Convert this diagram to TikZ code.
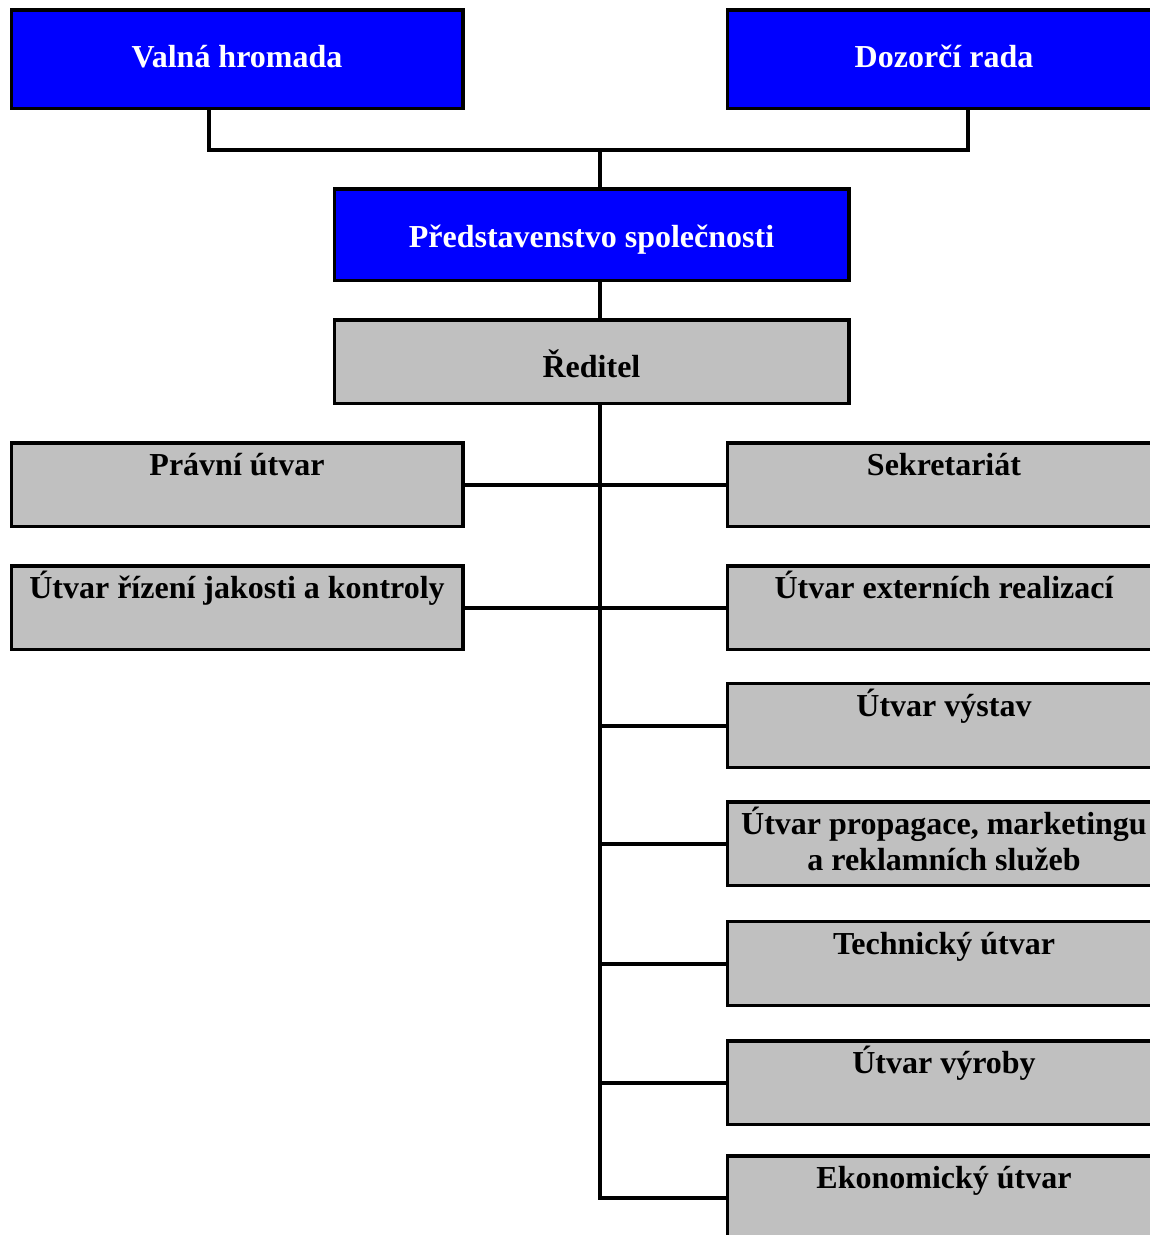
\documentclass[tikz,border=0pt]{standalone}
\usepackage{fontspec}
\setmainfont{Liberation Serif}
\definecolor{boxblue}{HTML}{0000FF}
\definecolor{boxgray}{HTML}{C0C0C0}
\begin{document}
\begin{tikzpicture}[x=1pt,y=-1pt,
  orgbox/.style={draw=black, line width=3.5pt, inner sep=0pt, minimum height=84pt},
  bluebox/.style={orgbox, fill=boxblue},
  graybox/.style={orgbox, fill=boxgray},
  lefttw/.style={minimum width=452pt},
  righttw/.style={minimum width=434pt},
  shadowline/.style={draw=white, line width=0.8pt},
  lbl/.style={font=\fontsize{32}{36}\selectfont\bfseries, anchor=base, inner sep=0pt},
  wlbl/.style={lbl, text=white},
  conn/.style={draw=black, line width=4pt},
  branch/.style={conn, shorten >=-1.5pt, shorten <=-1.5pt}]
\useasboundingbox (0,0) rectangle (1150,1235);
\clip (0,0) rectangle (1150,1235);
\fill[white] (0,0) rectangle (1150,1235);

\coordinate (junction) at (600,150);
\node[bluebox, lefttw, minimum height=99pt] (valna) at (237,59.5) {};
\node[bluebox, righttw, minimum height=99pt] (dozorci) at (944,59.5) {};
\node[bluebox, minimum width=515pt, minimum height=92pt] (predst) at (591.5,235) {};
\node[graybox, minimum width=515pt] (reditel) at (591.5,362) {};
\node[graybox, lefttw] (pravni) at (237,485) {};
\node[graybox, lefttw] (rizeni) at (237,608) {};
\node[graybox, righttw] (sekret) at (944,485) {};
\node[graybox, righttw] (extern) at (944,608) {};
\node[graybox, righttw] (vystav) at (944,725.5) {};
\node[graybox, righttw] (propag) at (944,844) {};
\node[graybox, righttw] (tech) at (944,963.5) {};
\node[graybox, righttw] (vyroba) at (944,1083) {};
\node[graybox, righttw] (ekonom) at (944,1198) {};

\foreach \n in {valna,dozorci,predst,reditel,pravni,rizeni,sekret,extern,vystav,propag,tech,vyroba,ekonom}
  \draw[shadowline] ([yshift=2pt]\n.north west) -- (\n.south west) -- (\n.south east);

% connectors
\draw[branch] ([xshift=-28pt]valna.south) |- (junction) -| ([xshift=24pt]dozorci.south);
\draw[branch] (junction) -- (junction |- predst.north);
\draw[branch] (predst.south -| junction) -- (reditel.north -| junction);
\draw[branch] (reditel.south -| junction) |- (ekonom.west);
\draw[branch] (pravni.east) -- (sekret.west);
\draw[branch] (rizeni.east) -- (extern.west);
\foreach \n in {vystav,propag,tech,vyroba}
  \draw[branch] (junction |- \n.west) -- (\n.west);

% labels
\node[wlbl] (tvalna) at (237,67) {Valná hromada};
\node[wlbl] (tdozorci) at (944,67) {Dozorčí rada};
\node[wlbl] (tpredst) at (591.5,247) {Představenstvo společnosti};
\node[lbl] (treditel) at (591.5,377) {Ředitel};
\node[lbl] (tpravni) at (237,475) {Právní útvar};
\node[lbl] (trizeni) at (237,598) {Útvar řízení jakosti a kontroly};
\node[lbl] (tsekret) at (944,475) {Sekretariát};
\node[lbl] (textern) at (944,598) {Útvar externích realizací};
\node[lbl] (tvystav) at (944,716) {Útvar výstav};
\node[lbl] (tpropaga) at (944,834) {Útvar propagace, marketingu};
\node[lbl] (tpropagb) at (944,870) {a reklamních služeb};
\node[lbl] (ttech) at (944,954) {Technický útvar};
\node[lbl] (tvyroba) at (944,1073) {Útvar výroby};
\node[lbl] (tekonom) at (944,1188) {Ekonomický útvar};
\end{tikzpicture}
\end{document}
